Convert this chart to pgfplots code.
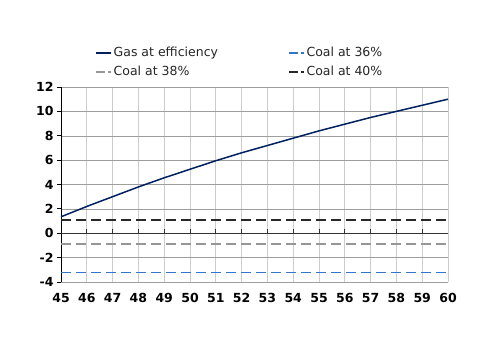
\documentclass[border=0pt]{standalone}
\usepackage{pgfplots}
\pgfplotsset{compat=1.18}
\usepackage{fontspec}
\setmainfont{DejaVu Sans}
\definecolor{gasblue}{RGB}{0,32,96}
\definecolor{coalblue}{RGB}{51,117,204}
\definecolor{coalgray}{RGB}{150,150,150}
\definecolor{coalblack}{RGB}{40,40,40}
\begin{document}
\begin{tikzpicture}[x=1pt,y=1pt]
\path[use as bounding box] (0,0) rectangle (500,354);
\begin{axis}[
  at={(61pt,72pt)}, anchor=south west,
  scale only axis, width=387pt, height=195pt,
  xmin=45, xmax=60, ymin=-4, ymax=12,
  xtick={45,...,60}, ytick={-4,-2,...,12},
  axis x line*=bottom,
  x axis line style={draw=none},
  xtick style={draw=none},
  axis y line*=left,
  y axis line style={black, line width=0.9pt, -},
  ytick style={black, line width=0.9pt},
  tick align=outside, major tick length=4pt,
  grid=major,
  x grid style={color=black!20, line width=0.9pt},
  y grid style={color=black!38, line width=0.5pt},
  tick label style={font=\fontsize{12.5}{14}\selectfont\bfseries},
  xticklabel style={yshift=-4pt},
  /pgf/number format/assume math mode=true,
  clip=false,
  legend columns=2,
  legend style={at={(0.08,1.225)}, anchor=north west, draw=none, fill=none,
    font=\fontsize{12.5}{15}\selectfont, row sep=4pt, text=black!85,
    /tikz/every even column/.append style={column sep=68pt}},
  legend cell align=left,
  legend image code/.code={\draw[#1] (0pt,0pt) -- (15pt,0pt);},
]
\addplot[gasblue, line width=1.5pt] coordinates {
(45,1.35)(46,2.2)(47,3.0)(48,3.8)(49,4.55)(50,5.25)(51,5.95)(52,6.6)(53,7.2)(54,7.8)(55,8.4)(56,8.95)(57,9.5)(58,10.0)(59,10.5)(60,11.0)};
\addlegendentry{Gas at efficiency}
\addplot[coalblue, line width=1.5pt, dash pattern=on 10pt off 5pt,
  legend image post style={dash pattern=on 9pt off 3pt}] coordinates {(45,-3.2)(60,-3.2)};
\addlegendentry{Coal at 36\%}
\addplot[coalgray, line width=1.5pt, dash pattern=on 10pt off 5pt,
  legend image post style={dash pattern=on 9pt off 3pt}] coordinates {(45,-0.9)(60,-0.9)};
\addlegendentry{Coal at 38\%}
\addplot[coalblack, line width=1.5pt, dash pattern=on 10pt off 5pt,
  legend image post style={dash pattern=on 9pt off 3pt}] coordinates {(45,1.1)(60,1.1)};
\addlegendentry{Coal at 40\%}
\draw[black!80, line width=0.9pt] (axis cs:45,0) -- (axis cs:60,0);
\pgfplotsinvokeforeach{46,...,59}{
  \draw[black!80, line width=0.9pt] (axis cs:#1,0) -- (axis cs:#1,0.33);
}
\end{axis}
\end{tikzpicture}
\end{document}
